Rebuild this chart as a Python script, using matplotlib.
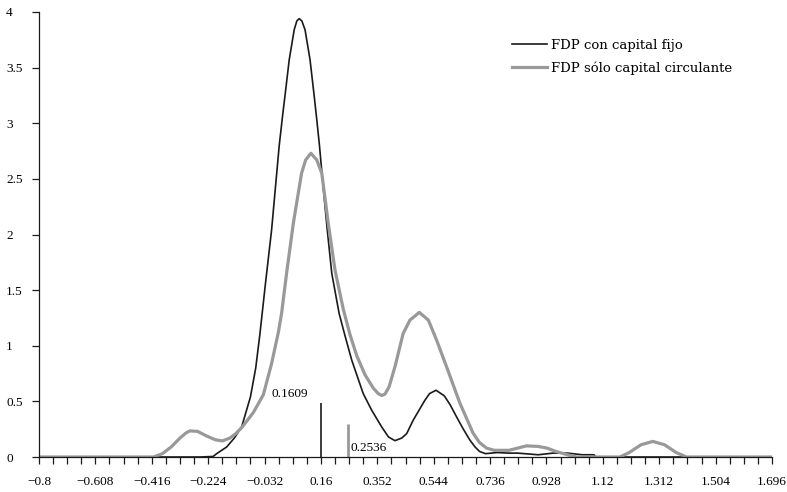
import matplotlib
matplotlib.use("Agg")
import matplotlib.pyplot as plt
import numpy as np

plt.rcParams['font.family'] = ['Liberation Serif', 'DejaVu Serif']

# Black curve: FDP con capital fijo
x_fijo = [-0.8, -0.25, -0.207, -0.195, -0.161, -0.135, -0.110, -0.080, -0.062, -0.048,
          -0.028, -0.008, 0.005, 0.018, 0.030, 0.040, 0.052, 0.069, 0.078, 0.086,
          0.095, 0.106, 0.123, 0.136, 0.146, 0.155, 0.170, 0.182, 0.197, 0.222,
          0.242, 0.265, 0.304, 0.333, 0.367, 0.390, 0.412, 0.435, 0.452, 0.474,
          0.514, 0.530, 0.552, 0.580, 0.600, 0.622, 0.645, 0.667, 0.685, 0.700,
          0.720, 0.760, 0.800, 0.830, 0.900, 0.950, 1.000, 1.050, 1.090, 1.095,
          1.696]
y_fijo = [0.0, 0.0, 0.005, 0.03, 0.09, 0.17, 0.27, 0.54, 0.80, 1.10,
          1.58, 2.04, 2.42, 2.80, 3.08, 3.30, 3.57, 3.84, 3.92, 3.94,
          3.92, 3.84, 3.57, 3.27, 3.03, 2.80, 2.36, 2.03, 1.65, 1.29,
          1.09, 0.87, 0.57, 0.42, 0.27, 0.18, 0.147, 0.17, 0.21, 0.33,
          0.51, 0.57, 0.60, 0.55, 0.47, 0.36, 0.25, 0.153, 0.09, 0.05,
          0.03, 0.04, 0.035, 0.035, 0.02, 0.035, 0.035, 0.02, 0.02, 0.0,
          0.0]

# Gray curve: FDP sólo capital circulante
x_circ = [-0.8, -0.41, -0.38, -0.35, -0.32, -0.30, -0.286, -0.26, -0.23, -0.20,
          -0.175, -0.15, -0.13, -0.108, -0.07, -0.036, -0.008, 0.015, 0.026, 0.043,
          0.066, 0.094, 0.108, 0.126, 0.146, 0.163, 0.185, 0.208, 0.236, 0.259,
          0.282, 0.310, 0.338, 0.355, 0.367, 0.378, 0.392, 0.412, 0.440, 0.463,
          0.495, 0.526, 0.554, 0.588, 0.633, 0.678, 0.700, 0.724, 0.750, 0.800,
          0.830, 0.860, 0.900, 0.930, 0.960, 1.000, 1.030, 1.178, 1.210, 1.250,
          1.290, 1.330, 1.370, 1.405, 1.696]
y_circ = [0.0, 0.0, 0.03, 0.09, 0.17, 0.215, 0.235, 0.23, 0.19, 0.155,
          0.145, 0.17, 0.21, 0.27, 0.40, 0.56, 0.84, 1.12, 1.29, 1.65,
          2.10, 2.55, 2.67, 2.73, 2.67, 2.55, 2.10, 1.68, 1.33, 1.10,
          0.91, 0.74, 0.62, 0.57, 0.553, 0.565, 0.63, 0.81, 1.11, 1.23,
          1.30, 1.23, 1.05, 0.81, 0.485, 0.215, 0.13, 0.08, 0.06, 0.06,
          0.08, 0.10, 0.095, 0.08, 0.05, 0.02, 0.0, 0.0, 0.04, 0.11,
          0.14, 0.11, 0.04, 0.0, 0.0]

# Reference markers
mark_x = [0.1609, 0.2536]
mark_h = [0.485, 0.30]
mark_labels = ["0.1609", "0.2536"]

series_labels = ["FDP con capital fijo", "FDP sólo capital circulante"]
x_tick_labels = ["\u22120.8", "\u22120.608", "\u22120.416", "\u22120.224", "\u22120.032",
                 "0.16", "0.352", "0.544", "0.736", "0.928", "1.12", "1.312", "1.504", "1.696"]
y_ticks = [0, 0.5, 1, 1.5, 2, 2.5, 3, 3.5, 4]
y_tick_labels = ["0", "0.5", "1", "1.5", "2", "2.5", "3", "3.5", "4"]

black = '#1a1a1a'
gray = '#999999'
fs = 9.5

fig = plt.figure(figsize=(7.87, 4.92), dpi=100)
ax = fig.add_axes([39/787, 1 - 457/492, (772 - 39)/787, (457 - 12)/492])

ax.plot(x_fijo, y_fijo, color=black, lw=1.2, label=series_labels[0])
ax.plot(x_circ, y_circ, color=gray, lw=2.3, label=series_labels[1])

ax.vlines(mark_x[0], 0, mark_h[0], color=black, lw=1.2)
ax.vlines(mark_x[1], 0, mark_h[1], color=gray, lw=2.0)
ax.text(mark_x[0] - 0.044, 0.57, mark_labels[0], ha='right', va='center', fontsize=fs)
ax.text(mark_x[1] + 0.006, 0.08, mark_labels[1], ha='left', va='center', fontsize=fs)

ax.set_xlim(-0.8, 1.696)
ax.set_ylim(0, 4)

major = np.linspace(-0.8, 1.696, 14)
minor = np.linspace(-0.8, 1.696, 53)
ax.set_xticks(major)
ax.set_xticklabels(x_tick_labels, fontsize=fs)
ax.set_xticks(minor, minor=True)
ax.tick_params(axis='x', which='both', direction='out', length=5, width=0.9, color=black, pad=8.5)
ax.tick_params(axis='x', which='minor', length=5)

ax.set_yticks(y_ticks)
ax.set_yticklabels(y_tick_labels, fontsize=fs)
ax.tick_params(axis='y', direction='out', length=5, width=0.9, color=black, pad=18.7)
for lab in ax.get_yticklabels():
    lab.set_horizontalalignment('left')

for s in ['top', 'right']:
    ax.spines[s].set_visible(False)
for s in ['left', 'bottom']:
    ax.spines[s].set_color(black)
    ax.spines[s].set_linewidth(0.9)

ax.legend(loc='upper left', bbox_to_anchor=(0.645, 0.94), frameon=False,
          prop={'family': 'DejaVu Serif', 'size': 9.5},
          handlelength=2.7, handletextpad=0.25, labelspacing=0.75,
          borderpad=0, borderaxespad=0)

fig.savefig('out.png', dpi=100)
